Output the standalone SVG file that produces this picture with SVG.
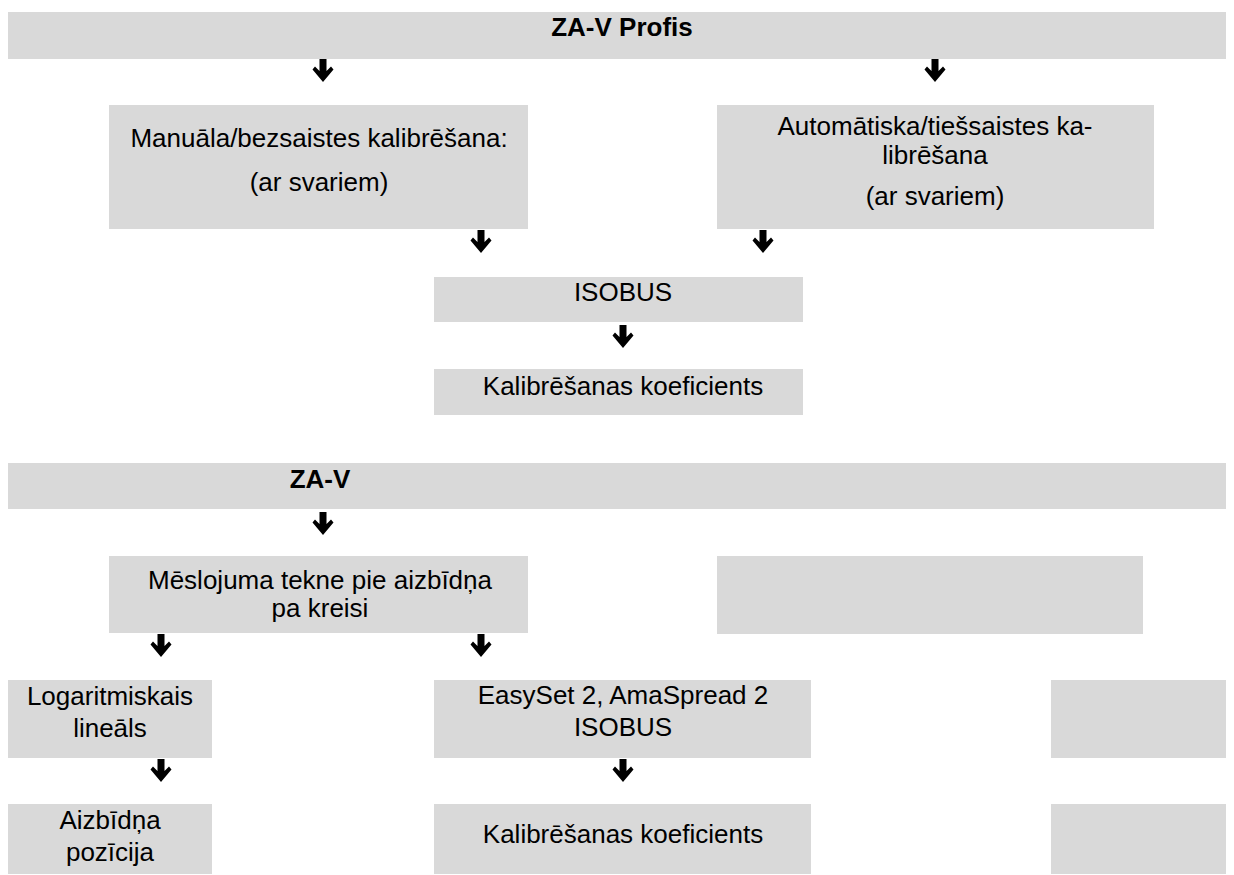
<svg xmlns="http://www.w3.org/2000/svg" width="1234" height="875" viewBox="0 0 1234 875">
<style>
.box{fill:#d9d9d9}
.t{font-family:"Liberation Sans",Arial,sans-serif;font-size:26px;fill:#000;text-anchor:middle}
.b{font-weight:bold}
.arr{fill:#000}
</style>
<defs>
<path id="arrow" d="M-3.5 0 H3.5 V12 L8 7.5 L10.5 10.5 L0 23 L-10.5 10.5 L-8 7.5 L-3.5 12 Z"/>
</defs>
<rect width="1234" height="875" fill="#fff"/>
<g id="n-zav-profis"><rect class="box" x="8" y="12" width="1218" height="47"/><text class="t b" x="622" y="36">ZA-V Profis</text></g>
<g id="n-manual"><rect class="box" x="109" y="105" width="419" height="124"/><text class="t" x="319" y="147">Manuāla/bezsaistes kalibrēšana:</text><text class="t" x="319" y="191">(ar svariem)</text></g>
<g id="n-auto"><rect class="box" x="717" y="105" width="437" height="124"/><text class="t" x="935" y="135">Automātiska/tiešsaistes ka-</text><text class="t" x="935" y="164">librēšana</text><text class="t" x="935" y="205">(ar svariem)</text></g>
<g id="n-isobus"><rect class="box" x="434" y="277" width="369" height="45"/><text class="t" x="623" y="301">ISOBUS</text></g>
<g id="n-kalib1"><rect class="box" x="434" y="369" width="369" height="46"/><text class="t" x="623" y="395">Kalibrēšanas koeficients</text></g>
<g id="n-zav"><rect class="box" x="8" y="463" width="1218" height="46"/><text class="t b" x="320" y="488">ZA-V</text></g>
<g id="n-meslojuma"><rect class="box" x="109" y="556" width="419" height="77"/><text class="t" x="320" y="589">Mēslojuma tekne pie aizbīdņa</text><text class="t" x="320" y="617">pa kreisi</text></g>
<g id="n-empty1"><rect class="box" x="717" y="556" width="426" height="78"/></g>
<g id="n-log"><rect class="box" x="8" y="680" width="204" height="78"/><text class="t" x="110" y="705">Logaritmiskais</text><text class="t" x="110" y="737">lineāls</text></g>
<g id="n-easyset"><rect class="box" x="434" y="680" width="377" height="78"/><text class="t" x="623" y="704">EasySet 2, AmaSpread 2</text><text class="t" x="623" y="736">ISOBUS</text></g>
<g id="n-empty2"><rect class="box" x="1051" y="680" width="175" height="78"/></g>
<g id="n-aizbidna"><rect class="box" x="8" y="804" width="204" height="70"/><text class="t" x="110" y="829">Aizbīdņa</text><text class="t" x="110" y="861">pozīcija</text></g>
<g id="n-kalib2"><rect class="box" x="434" y="804" width="377" height="70"/><text class="t" x="623" y="843">Kalibrēšanas koeficients</text></g>
<g id="n-empty3"><rect class="box" x="1051" y="804" width="175" height="70"/></g>
<g id="connectors" class="arr">
<use href="#arrow" x="323" y="59"/>
<use href="#arrow" x="935" y="59"/>
<use href="#arrow" x="481" y="230"/>
<use href="#arrow" x="763" y="230"/>
<use href="#arrow" x="623" y="325"/>
<use href="#arrow" x="323" y="512"/>
<use href="#arrow" x="161" y="634"/>
<use href="#arrow" x="481" y="634"/>
<use href="#arrow" x="161" y="759"/>
<use href="#arrow" x="623" y="759"/>
</g>
</svg>
